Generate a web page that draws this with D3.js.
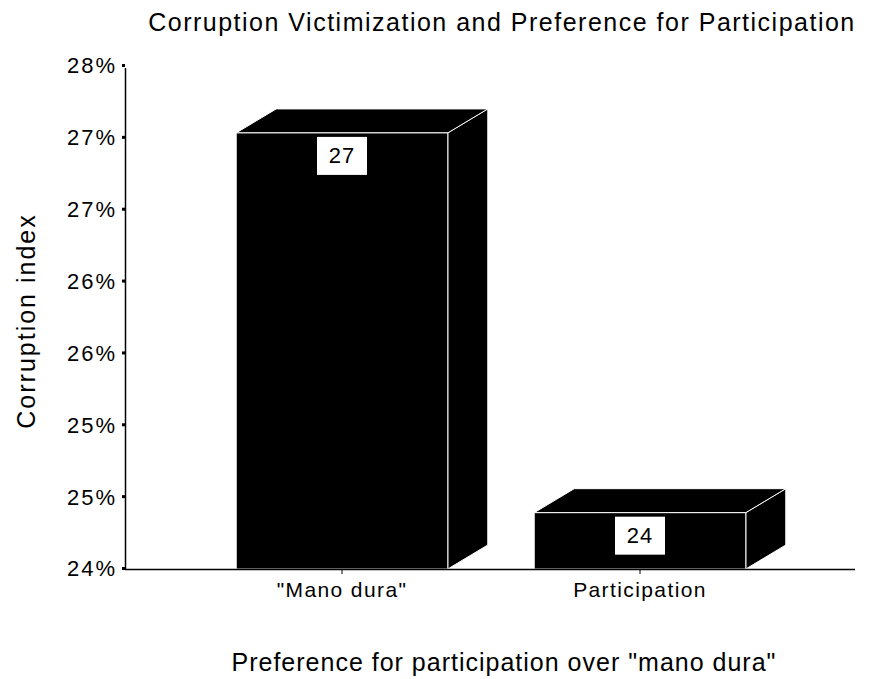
<!DOCTYPE html>
<html>
<head>
<meta charset="utf-8">
<script src="https://cdn.jsdelivr.net/npm/d3@7"></script>
<style>
  html, body { margin: 0; padding: 0; background: #fff; }
  svg text { font-family: "Liberation Sans", Arial, sans-serif; fill: #000; }
</style>
</head>
<body>
<svg id="chart" width="888" height="679"></svg>
<script>
// Mean corruption index by preferred approach
const categories = ['"Mano dura"', "Participation"];
const values = [27.46, 24.44];
const yDomain = [24, 28];
const tickCount = 8;

const title = "Corruption Victimization and Preference for Participation";
const xTitle = 'Preference for participation over "mano dura"';
const yTitle = "Corruption index";

const svg = d3.select("#chart");

const y = d3.scaleLinear().domain(yDomain).range([568, 65]);
const x = d3.scaleBand().domain(categories).range([193, 789])
  .paddingInner(0.29).paddingOuter(0.145);

// evenly spaced ticks across the domain, labels rounded to whole percent
const ticks = d3.range(tickCount).map(i => yDomain[0] + i * (yDomain[1] - yDomain[0]) / (tickCount - 1));
const pct = d => d3.format(".0f")(d) + "%";

// depth offset of the 3D boxes
const dx = 40, dy = -24;
const axisX = 125, baseY = 569;

// title
svg.append("text").attr("x", 502).attr("y", 31)
  .attr("text-anchor", "middle").style("font-size", "25px").style("letter-spacing", "1.5px")
  .text(title);

// y axis
const yAxis = d3.axisLeft(y).tickValues(ticks).tickFormat(pct).tickSize(0).tickPadding(8);
const gy = svg.append("g").attr("transform", `translate(${axisX},0)`).call(yAxis);
gy.select(".domain").remove();
gy.selectAll("text").style("font-size", "22px").style("letter-spacing", "2px").attr("dy", "0.36em");
gy.selectAll(".tick").append("rect").attr("x", -3).attr("y", -1.5).attr("width", 3).attr("height", 3).attr("fill", "#000");
svg.append("line").attr("x1", axisX + 0.5).attr("x2", axisX + 0.5).attr("y1", 68).attr("y2", baseY)
  .attr("stroke", "#000").attr("stroke-width", 1.5);

// bars
const bars = svg.append("g");
categories.forEach((c, i) => {
  const x0 = x(c), x1 = x(c) + x.bandwidth();
  const yt = y(values[i]), yb = baseY;
  const g = bars.append("g");
  // side face
  g.append("path")
    .attr("d", `M${x1},${yt}L${x1 + dx},${yt + dy}L${x1 + dx},${yb + dy}L${x1},${yb}Z`)
    .attr("fill", "#000").attr("stroke", "#fff").attr("stroke-width", 1);
  // top face
  g.append("path")
    .attr("d", `M${x0},${yt}L${x0 + dx},${yt + dy}L${x1 + dx},${yt + dy}L${x1},${yt}Z`)
    .attr("fill", "#000").attr("stroke", "#fff").attr("stroke-width", 1);
  // front face
  g.append("rect").attr("x", x0).attr("y", yt).attr("width", x1 - x0).attr("height", yb - yt)
    .attr("fill", "#000").attr("stroke", "#fff").attr("stroke-width", 1);
  // value label box
  const cx = x0 + x.bandwidth() / 2;
  g.append("rect").attr("x", cx - 25).attr("y", yt + 4).attr("width", 50).attr("height", 38).attr("fill", "#fff");
  g.append("text").attr("x", cx).attr("y", yt + 22).attr("dy", "0.36em")
    .attr("text-anchor", "middle").style("font-size", "22px").style("letter-spacing", "1px")
    .text(d3.format(".0f")(values[i]));
});

// x axis baseline and category labels
svg.append("line").attr("x1", axisX).attr("x2", 855).attr("y1", baseY + 0.5).attr("y2", baseY + 0.5)
  .attr("stroke", "#000").attr("stroke-width", 1.5);
const xAxis = d3.axisBottom(x).tickSize(5).tickPadding(8);
const gx = svg.append("g").attr("transform", `translate(0,${baseY})`).call(xAxis);
gx.select(".domain").remove();
gx.selectAll("line").attr("stroke", "#000");
gx.selectAll("text").style("font-size", "21px").style("letter-spacing", "1.4px");

// axis titles
svg.append("text").attr("x", 504).attr("y", 671)
  .attr("text-anchor", "middle").style("font-size", "25px").style("letter-spacing", "1px")
  .text(xTitle);
svg.append("text").attr("transform", "translate(35,321) rotate(-90)")
  .attr("text-anchor", "middle").style("font-size", "25px").style("letter-spacing", "2px")
  .text(yTitle);
</script>
</body>
</html>
